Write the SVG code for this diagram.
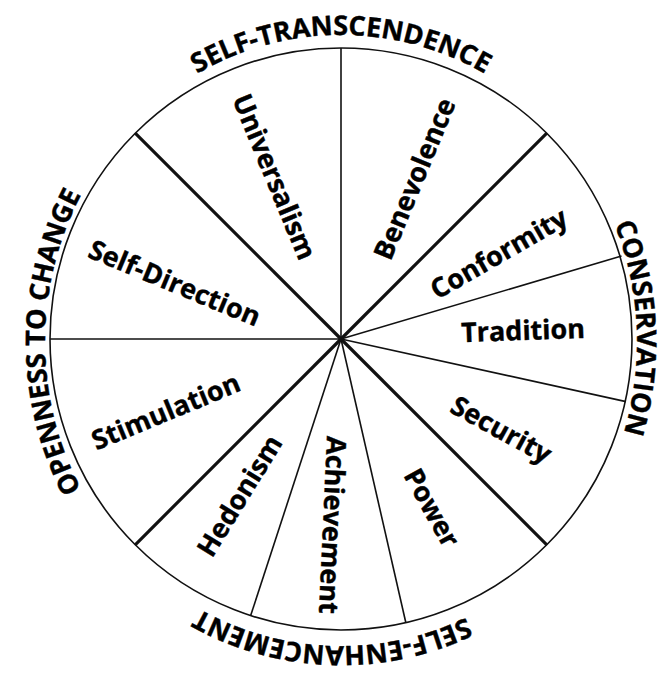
<svg xmlns="http://www.w3.org/2000/svg" width="672" height="676" viewBox="0 0 672 676">
<style>
.lbl{font-family:"Open Sans","Liberation Sans",sans-serif;font-weight:700;font-size:27px;fill:#000;stroke:#000;stroke-width:0.4;text-anchor:middle}
.thin{stroke:#111;stroke-width:1.6;fill:none}
.thick{stroke:#111;stroke-width:3.2;fill:none}
</style>
<defs>
<path id="arcTop" d="M 45 342 A 296 307 0 0 1 637 342"/>
<path id="arcRight" d="M 341 35 A 296 307 0 0 1 341 649"/>
<path id="arcBottom" d="M 637 342 A 296 304 0 0 1 45 342"/>
<path id="arcLeft" d="M 341 649 A 296 307 0 0 1 341 35"/>
</defs>
<rect width="672" height="676" fill="#fff"/>
<g id="wheel">
<circle class="thin" cx="341" cy="339" r="291" stroke-width="1.8"/>
</g>
<g id="connectors">
<line class="thin" x1="341" y1="339" x2="341" y2="48"/>
<line class="thick" x1="341" y1="339" x2="546.8" y2="133.2"/>
<line class="thin" x1="341" y1="339" x2="621.5" y2="256"/>
<line class="thin" x1="341" y1="339" x2="626" y2="401.6"/>
<line class="thick" x1="341" y1="339" x2="546.8" y2="544.8"/>
<line class="thin" x1="341" y1="339" x2="405.8" y2="622.5"/>
<line class="thin" x1="341" y1="339" x2="250.6" y2="615.8"/>
<line class="thick" x1="341" y1="339" x2="135.2" y2="544.8"/>
<line class="thin" x1="341" y1="339" x2="50" y2="339"/>
<line class="thick" x1="341" y1="339" x2="135.2" y2="133.2"/>
</g>
<g id="universalism"><text class="lbl" transform="translate(274,177) rotate(67.5)" y="9">Universalism</text></g>
<g id="benevolence"><text class="lbl" transform="translate(415,179) rotate(-67.5)" y="9">Benevolence</text></g>
<g id="conformity"><text class="lbl" transform="translate(499,254) rotate(-30)" y="9">Conformity</text></g>
<g id="tradition"><text class="lbl" transform="translate(523,331) rotate(-2)" y="9">Tradition</text></g>
<g id="security"><text class="lbl" transform="translate(501,430) rotate(28.7)" y="9">Security</text></g>
<g id="power"><text class="lbl" transform="translate(431.5,508) rotate(61)" y="9">Power</text></g>
<g id="achievement"><text class="lbl" transform="translate(332,525) rotate(92.6)" y="9">Achievement</text></g>
<g id="hedonism"><text class="lbl" transform="translate(240,496) rotate(-58.5)" y="9">Hedonism</text></g>
<g id="stimulation"><text class="lbl" transform="translate(166,412) rotate(-22.5)" y="9">Stimulation</text></g>
<g id="self-direction"><text class="lbl" transform="translate(174.5,283.5) rotate(22.5)" y="9">Self-Direction</text></g>
<g id="self-transcendence"><text class="lbl"><textPath href="#arcTop" startOffset="50%">SELF-TRANSCENDENCE</textPath></text></g>
<g id="conservation"><text class="lbl"><textPath href="#arcRight" startOffset="48.5%">CONSERVATION</textPath></text></g>
<g id="self-enhancement"><text class="lbl"><textPath href="#arcBottom" startOffset="51%">SELF-ENHANCEMENT</textPath></text></g>
<g id="openness-to-change"><text class="lbl"><textPath href="#arcLeft" startOffset="50%">OPENNESS TO CHANGE</textPath></text></g>
</svg>
